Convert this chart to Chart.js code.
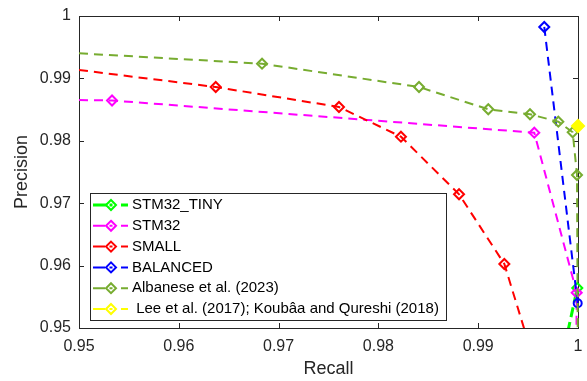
<!DOCTYPE html>
<html lang="en">
<head>
<meta charset="UTF-8" />
<title>Precision vs Recall</title>
<script src="https://cdn.jsdelivr.net/npm/chart.js"></script>
<style>
  body { margin: 0; background: #ffffff; overflow: hidden; }
</style>
</head>
<body>
<canvas id="chart" width="587" height="381"></canvas>
<script>
  // values
  const seriesNames = ['STM32_TINY', 'STM32', 'SMALL', 'BALANCED', 'Albanese et al. (2023)', ' Lee et al. (2017); Koubâa and Qureshi (2018)'];

  const tinyRecall = [0.9977, 0.99993];
  const tinyPrecision = [0.94, 0.95641];

  const stm32Recall = [0.95, 0.95331, 0.99562, 0.99987, 0.9998];
  const stm32Precision = [0.98654, 0.98646, 0.98130, 0.95566, 0.94];

  const smallRecall = [0.95, 0.96370, 0.97605, 0.98226, 0.98808, 0.99262, 0.9965];
  const smallPrecision = [0.99135, 0.98862, 0.98542, 0.98066, 0.97143, 0.96026, 0.94];

  const balancedRecall = [0.99662, 0.99997];
  const balancedPrecision = [0.99824, 0.95396];

  const albaneseRecall = [0.95, 0.96834, 0.98407, 0.99101, 0.99519, 0.99803, 0.99947, 0.99990, 1.0];
  const albanesePrecision = [0.99402, 0.99236, 0.98862, 0.98505, 0.98425, 0.98306, 0.98136, 0.97452, 0.94];

  const leeRecall = [1.0];
  const leePrecision = [0.98237];

  const xTicks = [0.95, 0.96, 0.97, 0.98, 0.99, 1];
  const xTickLabels = ['0.95', '0.96', '0.97', '0.98', '0.99', '1'];
  const yTicks = [0.95, 0.96, 0.97, 0.98, 0.99, 1];
  const yTickLabels = ['0.95', '0.96', '0.97', '0.98', '0.99', '1'];

  const FONT = '"Liberation Sans", Arial, Helvetica, sans-serif';
  const AXIS = '#262626';

  function pts(xs, ys) {
    return xs.map((x, i) => ({ x: x, y: ys[i] }));
  }

  // markers hidden on the edge/out-of-view points
  function radii(n, hidden) {
    const r = [];
    for (let i = 0; i < n; i++) r.push(hidden.indexOf(i) >= 0 ? 0 : 5);
    return r;
  }

  function series(name, xs, ys, color, opts) {
    return Object.assign({
      label: name,
      data: pts(xs, ys),
      borderColor: color,
      backgroundColor: color,
      borderWidth: 2,
      borderDash: [9, 6],
      pointStyle: 'rectRot',
      pointRadius: 5,
      pointBorderWidth: 2,
      pointBorderColor: color,
      pointBackgroundColor: 'rgba(0,0,0,0)',
      tension: 0,
      clip: { left: 0, top: 8, right: 8, bottom: 0 }
    }, opts);
  }

  const datasets = [
    series(seriesNames[0], tinyRecall, tinyPrecision, '#00ff00',
      { borderWidth: 3, borderDash: [10, 5], pointRadius: radii(2, [0]), order: 5 }),
    series(seriesNames[1], stm32Recall, stm32Precision, '#ff00ff',
      { pointRadius: radii(5, [0, 4]), order: 4 }),
    series(seriesNames[2], smallRecall, smallPrecision, '#ff0000',
      { pointRadius: radii(7, [0, 6]), order: 3 }),
    series(seriesNames[3], balancedRecall, balancedPrecision, '#0000ff',
      { pointStyle: ['rectRot', 'circle'], pointRadius: [5, 4], order: 2 }),
    series(seriesNames[4], albaneseRecall, albanesePrecision, '#77ac30',
      { pointRadius: radii(9, [0, 8]), order: 1 }),
    series(seriesNames[5], leeRecall, leePrecision, '#ffff00',
      { pointBackgroundColor: '#ffff00', pointRadius: 6, order: 0 })
  ];

  // box around the plot with inward ticks, like the original figure
  const frame = {
    id: 'frame',
    beforeDatasetsDraw(chart) {
      const { ctx, chartArea: a, scales } = chart;
      ctx.save();
      ctx.strokeStyle = AXIS;
      ctx.lineWidth = 1;
      ctx.strokeRect(a.left + 0.5, a.top + 0.5, a.right - a.left, a.bottom - a.top);
      ctx.beginPath();
      xTicks.forEach(v => {
        const px = Math.round(scales.x.getPixelForValue(v)) + 0.5;
        ctx.moveTo(px, a.bottom); ctx.lineTo(px, a.bottom - 5);
        ctx.moveTo(px, a.top); ctx.lineTo(px, a.top + 5);
      });
      yTicks.forEach(v => {
        const py = Math.round(scales.y.getPixelForValue(v)) + 0.5;
        ctx.moveTo(a.left, py); ctx.lineTo(a.left + 5, py);
        ctx.moveTo(a.right, py); ctx.lineTo(a.right - 5, py);
      });
      ctx.stroke();
      ctx.restore();
    }
  };

  const legendBox = {
    id: 'legendBox',
    afterDatasetsDraw(chart) {
      const ctx = chart.ctx;
      ctx.save();
      ctx.fillStyle = '#ffffff';
      ctx.fillRect(90, 193, 356, 127);
      ctx.strokeStyle = AXIS;
      ctx.lineWidth = 1;
      ctx.strokeRect(90.5, 193.5, 356, 127);
      ctx.font = '15px ' + FONT;
      ctx.textBaseline = 'middle';
      chart.data.datasets.forEach((ds, i) => {
        const y = 205 + i * 20.8;
        const c = ds.borderColor;
        ctx.strokeStyle = c;
        ctx.lineWidth = ds.borderWidth;
        ctx.beginPath();
        ctx.moveTo(93, y); ctx.lineTo(i === 0 ? 107 : 105, y);
        ctx.moveTo(109.5, y); ctx.lineTo(112.5, y);
        ctx.moveTo(121, y); ctx.lineTo(128, y);
        ctx.stroke();
        ctx.lineWidth = 2;
        ctx.beginPath();
        ctx.moveTo(111, y - 5); ctx.lineTo(116, y); ctx.lineTo(111, y + 5); ctx.lineTo(106, y);
        ctx.closePath();
        ctx.stroke();
        ctx.fillStyle = '#000000';
        ctx.fillText(ds.label, 132, y);
      });
      ctx.restore();
    }
  };

  new Chart(document.getElementById('chart'), {
    type: 'line',
    data: { datasets: datasets },
    plugins: [frame, legendBox],
    options: {
      responsive: false,
      animation: false,
      layout: { padding: { left: 0, right: 9, top: 16, bottom: 0 } },
      plugins: { legend: { display: false }, tooltip: { enabled: false } },
      scales: {
        x: {
          type: 'linear', min: 0.95, max: 1,
          grid: { display: false, drawTicks: false },
          border: { display: false },
          afterFit(scale) { scale.height = 53; scale.paddingLeft = 0; scale.paddingRight = 0; },
          afterBuildTicks(scale) { scale.ticks = xTicks.map(v => ({ value: v })); },
          ticks: {
            autoSkip: false, maxRotation: 0, padding: 9, color: AXIS,
            font: { family: FONT, size: 16 },
            callback: (v, i) => xTickLabels[i]
          },
          title: { display: true, text: 'Recall', color: AXIS, font: { family: FONT, size: 18 }, padding: { top: 0, bottom: 1 } }
        },
        y: {
          type: 'linear', min: 0.95, max: 1,
          grid: { display: false, drawTicks: false },
          border: { display: false },
          afterFit(scale) { scale.width = 79; scale.paddingTop = 0; scale.paddingBottom = 0; },
          afterBuildTicks(scale) { scale.ticks = yTicks.map(v => ({ value: v })); },
          ticks: {
            autoSkip: false, padding: 8, color: AXIS,
            font: { family: FONT, size: 16 },
            callback: (v, i) => yTickLabels[i]
          },
          title: { display: true, text: 'Precision', color: AXIS, font: { family: FONT, size: 18 }, padding: { top: 11, bottom: 0 } }
        }
      }
    }
  });
</script>
</body>
</html>
